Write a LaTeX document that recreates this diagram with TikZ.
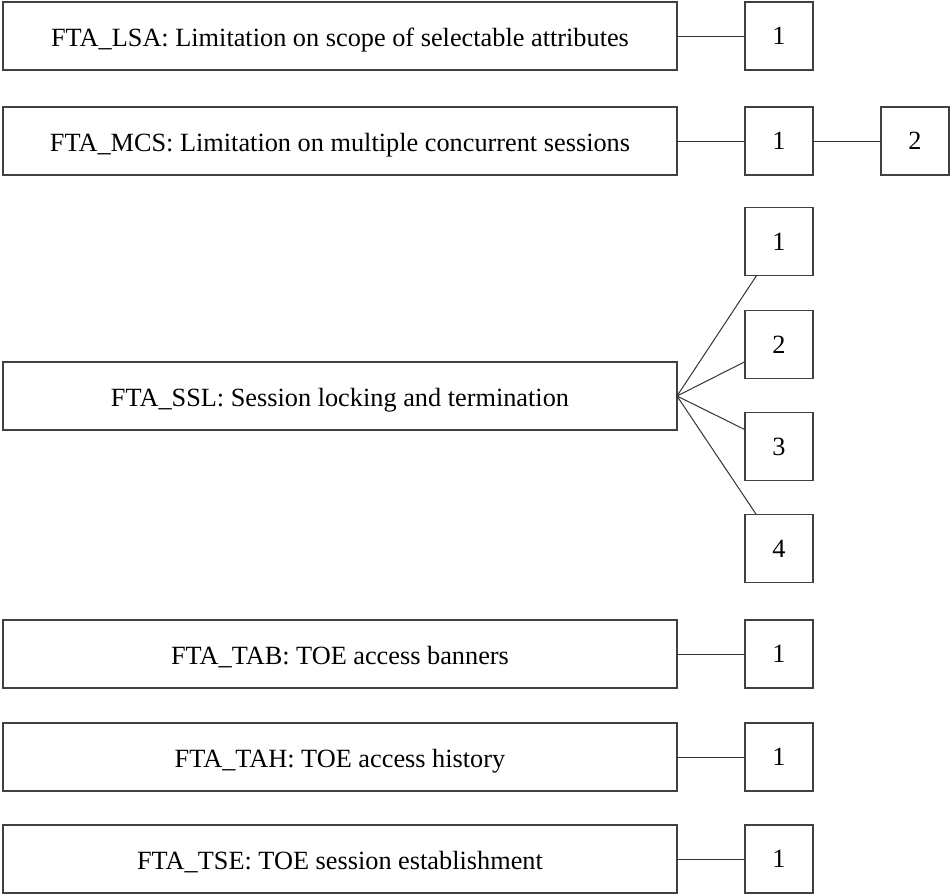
\documentclass[tikz,border=0pt]{standalone}
\usepackage{fontspec}
\setmainfont{Liberation Serif}
\usepackage{tikz}
\usetikzlibrary{positioning}

\begin{document}
\begin{tikzpicture}[
    node distance=17pt,
    family/.style={
        draw=black!75, rectangle, line width=0.8pt, inner sep=0pt, outer sep=0pt,
        minimum width=337pt, minimum height=34pt,
        text height=10.8pt, text depth=0pt,
        font=\fontsize{13.15}{15}\selectfont
    },
    comp/.style={
        draw=black!75, rectangle, line width=0.8pt, inner sep=0pt, outer sep=0pt,
        minimum width=34pt, minimum height=34pt,
        font=\fontsize{13.15}{15}\selectfont
    },
    link/.style={
        draw=black!80, line width=0.5pt
    }
]

\node [family] (lsa) {FTA\_LSA: Limitation on scope of selectable attributes};
\node [comp, right=34pt of lsa] (lsa1) {1};

\node [family, below=18.5pt of lsa] (mcs) {FTA\_MCS: Limitation on multiple concurrent sessions};
\node [comp, right=34pt of mcs] (mcs1) {1};
\node [comp, right=34pt of mcs1] (mcs2) {2};

\node [family, below=93.5pt of mcs] (ssl) {FTA\_SSL: Session locking and termination};
\node [comp, right=34pt of ssl, yshift=25.75pt] (ssl2) {2};
\node [comp, above=17.5pt of ssl2] (ssl1) {1};
\node [comp, below=of ssl2] (ssl3) {3};
\node [comp, below=of ssl3] (ssl4) {4};

\node [family, below=95pt of ssl] (tab) {FTA\_TAB: TOE access banners};
\node [comp, right=34pt of tab] (tab1) {1};

\node [family, below=17.5pt of tab] (tah) {FTA\_TAH: TOE access history};
\node [comp, right=34pt of tah] (tah1) {1};

\node [family, below=of tah] (tse) {FTA\_TSE: TOE session establishment};
\node [comp, right=34pt of tse] (tse1) {1};

\draw [link] (lsa) -- (lsa1);

\draw [link] (mcs) -- (mcs1);
\draw [link] (mcs1) -- (mcs2);

\foreach \k in {1,...,4}
    \draw [link] (ssl.east) -- (ssl\k);

\draw [link] (tab) -- (tab1);
\draw [link] (tah) -- (tah1);
\draw [link] (tse) -- (tse1);

\useasboundingbox ([xshift=-1.5pt,yshift=1pt]lsa.north west) rectangle ++(476pt,-447pt);

\end{tikzpicture}
\end{document}
